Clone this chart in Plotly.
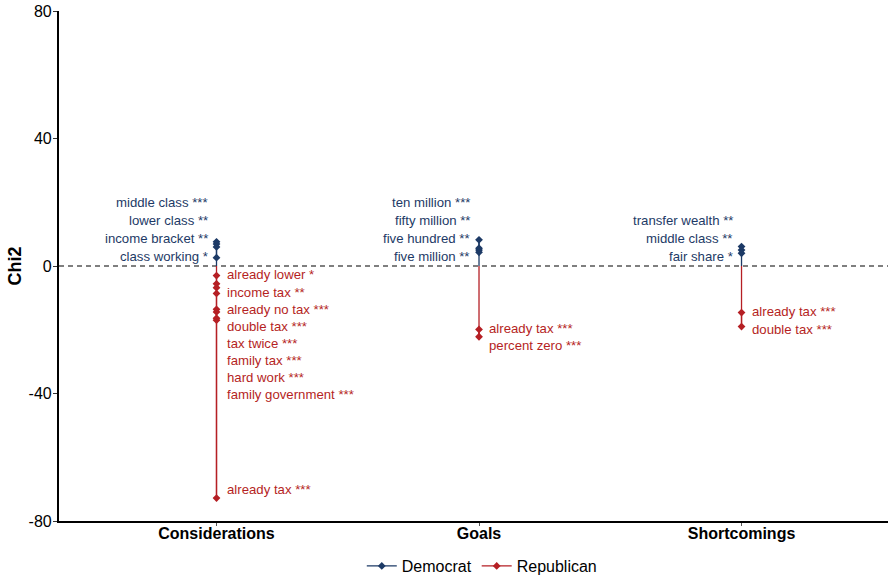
import plotly.graph_objects as go

# Chi-square keyness of terms by party, per argument category
categories = ["Considerations", "Goals", "Shortcomings"]

dem_terms = [
    ["middle class ***", "lower class **", "income bracket **", "class working *"],
    ["ten million ***", "fifty million **", "five hundred **", "five million **"],
    ["transfer wealth **", "middle class **", "fair share *"],
]
dem_chi2 = [
    [7.6, 6.9, 6.0, 2.6],
    [8.2, 5.6, 5.0, 4.3],
    [6.1, 5.0, 4.0],
]

rep_terms = [
    ["already lower *", "income tax **", "already no tax ***", "double tax ***",
     "tax twice ***", "family tax ***", "hard work ***", "family government ***",
     "already tax ***"],
    ["already tax ***", "percent zero ***"],
    ["already tax ***", "double tax ***"],
]
rep_chi2 = [
    [-3.0, -5.6, -6.8, -8.6, -13.6, -14.4, -16.4, -17.0, -72.8],
    [-19.9, -22.2],
    [-14.6, -19.0],
]

y_ticks = [-80, -40, 0, 40, 80]

DEM = "#1d3a66"
REP = "#b51f24"
FONT = "Liberation Sans, Arial, sans-serif"

fig = go.Figure()

def add_party(name, color, values):
    first = True
    for i, vals in enumerate(values):
        xpos = i + 1
        extreme = max(vals) if vals[0] > 0 else min(vals)
        # stem from zero to the most extreme term
        fig.add_trace(go.Scatter(
            x=[xpos, xpos], y=[0, extreme], mode="lines",
            line=dict(color=color, width=1.3),
            showlegend=False, hoverinfo="skip"))
        fig.add_trace(go.Scatter(
            x=[xpos] * len(vals), y=vals, mode="lines+markers",
            line=dict(color=color, width=1.3),
            marker=dict(symbol="diamond", size=6, color=color),
            name=name, legendgroup=name, showlegend=first))
        first = False

add_party("Democrat", DEM, dem_chi2)
add_party("Republican", REP, rep_chi2)

annotations = []
LABEL_SIZE = 13.2

# Democrat labels stacked upward from a common floor, left of the stem
dem_floor, dem_gap = 3.1, 5.6
for i, (terms, vals) in enumerate(zip(dem_terms, dem_chi2)):
    order = sorted(range(len(vals)), key=lambda k: vals[k])
    for slot, k in enumerate(order):
        annotations.append(dict(
            x=i + 1, y=dem_floor + slot * dem_gap, xref="x", yref="y",
            text=terms[k], showarrow=False, xanchor="right", yanchor="middle",
            xshift=-7, font=dict(family=FONT, size=LABEL_SIZE, color=DEM)))

# Republican labels pushed downward so they do not overlap, right of the stem
rep_gap = 5.38
for i, (terms, vals) in enumerate(zip(rep_terms, rep_chi2)):
    prev = None
    for term, v in zip(terms, vals):
        ly = v + 0.2 if prev is None else min(v, prev - rep_gap)
        shift = 9 if (prev is not None and prev - v > 20) else 0
        prev = ly
        annotations.append(dict(
            x=i + 1, y=ly, xref="x", yref="y",
            text=term, showarrow=False, xanchor="left", yanchor="middle",
            xshift=8, yshift=shift,
            font=dict(family=FONT, size=LABEL_SIZE, color=REP)))

fig.update_layout(
    width=888, height=580,
    margin=dict(l=59, r=0, t=11, b=59),
    plot_bgcolor="white", paper_bgcolor="white",
    font=dict(family=FONT, color="black"),
    annotations=annotations,
    shapes=[dict(type="line", xref="paper", yref="y", x0=0, x1=1, y0=0, y1=0,
                 line=dict(color="black", width=1.1, dash="5px,4px"), layer="below")],
    legend=dict(orientation="h", x=0.51, xanchor="center",
                yref="container", y=14 / 580, yanchor="middle",
                font=dict(family=FONT, size=16, color="black"),
                itemwidth=30, tracegroupgap=0),
    xaxis=dict(
        range=[0.4, 3.558], tickvals=[1, 2, 3],
        ticktext=["<b>%s</b>" % c for c in categories],
        tickfont=dict(family=FONT, size=16, color="black"),
        ticklabelstandoff=-6,
        showline=True, linecolor="black", linewidth=2.2,
        ticks="outside", ticklen=3, tickcolor="#555", tickwidth=1,
        showgrid=False, zeroline=False, fixedrange=True),
    yaxis=dict(
        range=[-80, 80], tickvals=y_ticks, ticktext=[str(t) for t in y_ticks],
        tickfont=dict(family=FONT, size=16, color="black"),
        ticklabelstandoff=-2,
        title=dict(text="<b>Chi2</b>", font=dict(family=FONT, size=18, color="black"),
                   standoff=2),
        showline=True, linecolor="black", linewidth=2.2,
        ticks="outside", ticklen=4, tickcolor="#333", tickwidth=1,
        showgrid=False, zeroline=False),
)

fig.write_html("out.html")
